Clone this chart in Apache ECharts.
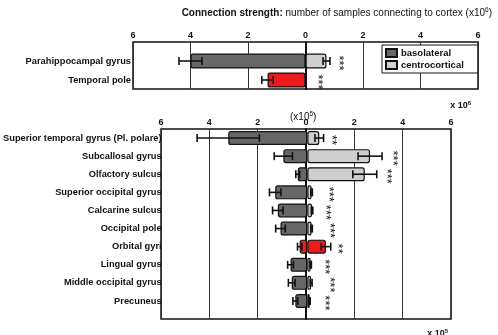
<!DOCTYPE html>
<html>
<head>
<meta charset="utf-8">
<script src="https://cdn.jsdelivr.net/npm/echarts@6/dist/echarts.min.js"></script>
<style>
  html, body { margin: 0; padding: 0; background: #fff; }
  #chart { width: 498px; height: 335px; }
</style>
</head>
<body>
<div id="chart"></div>
<script>
  // upper panel, values x10^6
  var topCats = ['Parahippocampal gyrus', 'Temporal pole'];
  var topBaso = [4.0, 1.32];
  var topBasoErr = [0.4, 0.2];
  var topCentro = [0.73, 0.05];
  var topCentroErr = [0.12, 0];
  var topRed = [false, true];
  var topStars = ['***', '***'];
  var topStarAt = [1.15, 0.42];

  // lower panel, values x10^5
  var cats = ['Superior temporal gyrus (Pl. polare)', 'Subcallosal gyrus', 'Olfactory sulcus',
    'Superior occipital gyrus', 'Calcarine sulcus', 'Occipital pole', 'Orbital gyri',
    'Lingual gyrus', 'Middle occipital gyrus', 'Precuneus'];
  var baso = [3.3, 1.0, 0.4, 1.34, 1.23, 1.12, 0.32, 0.7, 0.65, 0.5];
  var basoErr = [1.3, 0.38, 0.08, 0.24, 0.22, 0.2, 0.09, 0.12, 0.14, 0.1];
  var centro = [0.5, 2.62, 2.4, 0.18, 0.2, 0.18, 0.78, 0.14, 0.16, 0.1];
  var centroErr = [0.18, 0.5, 0.5, 0.03, 0.03, 0.03, 0.2, 0.03, 0.04, 0.02];
  var red = [false, false, false, false, false, false, true, false, false, false];
  var stars = ['**', '***', '***', '***', '***', '***', '**', '***', '***', '***'];
  var starAt = [1.03, 3.55, 3.3, 0.9, 0.78, 0.95, 1.27, 0.74, 0.95, 0.74];

  var FONT = '"Liberation Sans", Arial, sans-serif';
  var DARK = '#676767', LIGHT = '#cfcfcf', RED = '#ec1c1c', INK = '#111';

  var chart = echarts.init(document.getElementById('chart'));

  function barData(vals, flags, sign) {
    return vals.map(function (v, i) {
      var d = { value: sign * v };
      if (flags[i]) d.itemStyle = { color: RED };
      return d;
    });
  }

  function errData(bv, be, cv, ce) {
    var out = [];
    bv.forEach(function (v, i) {
      out.push([-v, i, be[i]]);
      out.push([cv[i], i, ce[i]]);
    });
    return out;
  }

  function errRender(params, api) {
    var e = api.value(2);
    if (!e) return;
    var v = api.value(0), i = api.value(1);
    var a = api.coord([v - e, i]), b = api.coord([v + e, i]);
    var h = 4;
    var st = { stroke: INK, lineWidth: 1.6 };
    return {
      type: 'group',
      children: [
        { type: 'line', shape: { x1: a[0], y1: a[1], x2: b[0], y2: b[1] }, style: st },
        { type: 'line', shape: { x1: a[0], y1: a[1] - h, x2: a[0], y2: a[1] + h }, style: st },
        { type: 'line', shape: { x1: b[0], y1: b[1] - h, x2: b[0], y2: b[1] + h }, style: st }
      ]
    };
  }

  function starRender(list) {
    return function (params, api) {
      var p = api.coord([api.value(0), api.value(1)]);
      return {
        type: 'text',
        x: p[0], y: p[1] + 2,
        rotation: -Math.PI / 2,
        style: {
          text: list[params.dataIndex],
          font: '13px ' + FONT,
          fill: INK,
          align: 'center',
          verticalAlign: 'middle'
        }
      };
    };
  }

  function frameX(grid) {
    return {
      gridIndex: grid, type: 'value', min: -6, max: 6, interval: 2, position: 'top',
      axisLine: { show: false }, axisTick: { show: false },
      axisLabel: {
        margin: 2, fontSize: 9, fontWeight: 'bold', fontFamily: FONT, color: INK,
        formatter: function (v) { return Math.abs(v); }
      },
      splitLine: { lineStyle: { color: '#333', width: 1 } }
    };
  }

  function hiddenX(grid) {
    return { gridIndex: grid, type: 'value', min: -6, max: 6, show: false };
  }

  function frameY(grid) {
    return {
      gridIndex: grid, type: 'value', min: 0, max: 1,
      axisLine: { show: true, onZero: true, lineStyle: { color: INK, width: 2 } },
      axisLabel: { show: false }, axisTick: { show: false }, splitLine: { show: false }
    };
  }

  function catY(grid, data) {
    return {
      gridIndex: grid, type: 'category', data: data, inverse: true,
      axisLine: { show: false }, axisTick: { show: false },
      axisLabel: { margin: 2, fontSize: 9.3, fontWeight: 'bold', fontFamily: FONT, color: INK }
    };
  }

  var barStyle = { borderColor: INK, borderWidth: 1.2, borderRadius: 2 };

  chart.setOption({
    animation: false,
    backgroundColor: '#fff',
    title: [
      {
        text: '{b|Connection strength:} number of samples connecting to cortex (x10{s|6})',
        right: 1, top: 2,
        textStyle: {
          fontSize: 10, fontWeight: 'normal', fontFamily: FONT, color: INK, lineHeight: 13,
          rich: {
            b: { fontSize: 10, fontWeight: 'bold', fontFamily: FONT, color: INK, lineHeight: 13 },
            s: { fontSize: 6.5, fontFamily: FONT, color: INK, verticalAlign: 'top', lineHeight: 8 }
          }
        }
      },
      {
        text: 'x 10{s|6}', right: 22, top: 95,
        textStyle: {
          fontSize: 9, fontWeight: 'bold', fontFamily: FONT, color: INK, lineHeight: 12,
          rich: { s: { fontSize: 6, fontFamily: FONT, color: INK, verticalAlign: 'top', lineHeight: 7 } }
        }
      },
      {
        text: '(x10{s|5})', left: 285, top: 106,
        textStyle: {
          fontSize: 10, fontWeight: 'normal', fontFamily: FONT, color: INK, lineHeight: 13,
          rich: { s: { fontSize: 6.5, fontFamily: FONT, color: INK, verticalAlign: 'top', lineHeight: 8 } }
        }
      },
      {
        text: 'x 10{s|5}', right: 45, top: 323,
        textStyle: {
          fontSize: 9, fontWeight: 'bold', fontFamily: FONT, color: INK, lineHeight: 12,
          rich: { s: { fontSize: 6, fontFamily: FONT, color: INK, verticalAlign: 'top', lineHeight: 7 } }
        }
      }
    ],
    legend: {
      data: ['basolateral', 'centrocortical'],
      orient: 'vertical', left: 382, top: 45,
      backgroundColor: '#fff', borderColor: INK, borderWidth: 1,
      padding: [3, 14, 3, 3], itemGap: 2, itemWidth: 11, itemHeight: 8,
      icon: 'rect',
      textStyle: { fontSize: 9.5, fontWeight: 'bold', fontFamily: FONT, color: INK, padding: [0, 0, 0, -1] }
    },
    grid: [
      { left: 133, top: 42, width: 345, height: 47, show: true, borderColor: INK, borderWidth: 1.5 },
      { left: 133, top: 51.5, width: 345, height: 38 },
      { left: 161, top: 129, width: 290, height: 190, show: true, borderColor: INK, borderWidth: 1.5 },
      { left: 161, top: 129, width: 290, height: 181 }
    ],
    xAxis: [frameX(0), hiddenX(1), frameX(2), hiddenX(3)],
    yAxis: [frameY(0), catY(1, topCats), frameY(2), catY(3, cats)],
    series: [
      {
        name: 'basolateral', type: 'bar', xAxisIndex: 1, yAxisIndex: 1,
        barWidth: 15, barGap: '-100%', itemStyle: Object.assign({ color: DARK }, barStyle),
        data: barData(topBaso, topRed, -1)
      },
      {
        name: 'centrocortical', type: 'bar', xAxisIndex: 1, yAxisIndex: 1,
        barWidth: 15, barGap: '-100%', itemStyle: Object.assign({ color: LIGHT }, barStyle),
        data: barData(topCentro, topRed, 1)
      },
      {
        type: 'custom', xAxisIndex: 1, yAxisIndex: 1, z: 5, renderItem: errRender,
        data: errData(topBaso, topBasoErr, topCentro, topCentroErr)
      },
      {
        type: 'custom', xAxisIndex: 1, yAxisIndex: 1, z: 5, renderItem: starRender(topStars),
        data: topStarAt.map(function (v, i) { return [v, i]; })
      },
      {
        name: 'basolateral', type: 'bar', xAxisIndex: 3, yAxisIndex: 3,
        barWidth: 14, barGap: '-100%', itemStyle: Object.assign({ color: DARK }, barStyle),
        data: barData(baso, red, -1)
      },
      {
        name: 'centrocortical', type: 'bar', xAxisIndex: 3, yAxisIndex: 3,
        barWidth: 14, barGap: '-100%', itemStyle: Object.assign({ color: LIGHT }, barStyle),
        data: barData(centro, red, 1)
      },
      {
        type: 'custom', xAxisIndex: 3, yAxisIndex: 3, z: 5, renderItem: errRender,
        data: errData(baso, basoErr, centro, centroErr)
      },
      {
        type: 'custom', xAxisIndex: 3, yAxisIndex: 3, z: 5, renderItem: starRender(stars),
        data: starAt.map(function (v, i) { return [v, i]; })
      }
    ]
  });
</script>
</body>
</html>
